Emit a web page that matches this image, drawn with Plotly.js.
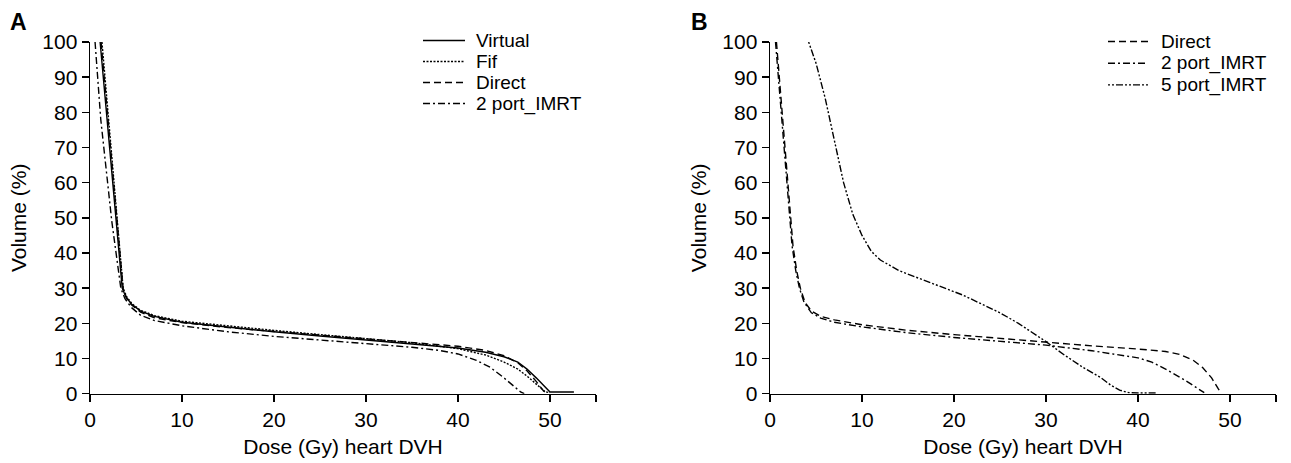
<!DOCTYPE html>
<html>
<head>
<meta charset="utf-8">
<script src="https://cdn.plot.ly/plotly-3.0.1.min.js"></script>
<style>html,body{margin:0;padding:0;background:#fff;}#chart{width:1291px;height:463px;}</style>
</head>
<body>
<div id="chart"></div>
<script>
// ---------- Data ----------
// Panel A
var namesA = ["Virtual", "Fif", "Direct", "2 port_IMRT"];
var doseA_virtual = [1.1, 3.5, 3.9, 4.5, 5.5, 7, 10, 15, 20, 25, 30, 35, 40, 43, 45, 46.5, 47.5, 48.5, 49.5, 50, 52.6];
var volA_virtual  = [100, 30, 27.5, 25.5, 23.5, 22, 20.3, 18.9, 17.6, 16.4, 15.3, 14.3, 13, 11.8, 10.5, 9, 7, 4.5, 1.8, 0.5, 0.5];
var doseA_fif = [1.3, 3.6, 4.0, 4.6, 5.5, 7, 10, 15, 20, 25, 30, 35, 40, 43, 45, 46.5, 47.5, 48.5, 49.5, 50];
var volA_fif  = [100, 30, 27.5, 25.5, 23.7, 22.2, 20.6, 19.2, 18, 16.8, 15.6, 14.5, 12.8, 11, 9, 7, 5, 2.8, 0.5, 0.3];
var doseA_direct = [1.2, 3.6, 4.0, 4.5, 5.5, 7, 10, 15, 20, 25, 30, 35, 40, 43, 45, 46.5, 47.5, 48.5, 49.3, 49.6];
var volA_direct  = [100, 30, 27, 25.3, 23.2, 21.6, 20.2, 18.8, 17.7, 16.6, 15.5, 14.5, 13.5, 12.3, 10.8, 8.8, 6.5, 3.5, 0.8, 0.2];
var doseA_imrt2 = [0.55, 1.17, 2.37, 3.35, 3.8, 4.5, 5.5, 7, 10, 15, 20, 25, 30, 35, 38, 40, 42, 43.5, 45, 46, 46.8, 47.2];
var volA_imrt2  = [100, 78, 49, 30, 27, 24.5, 22.3, 20.8, 19.3, 17.6, 16.3, 15.2, 14.2, 13.2, 12.3, 11.3, 9.5, 7.5, 4.5, 2.2, 0.5, 0];

// Panel B
var namesB = ["Direct", "2 port_IMRT", "5 port_IMRT"];
var doseB_direct = [0.7, 1.0, 1.3, 1.6, 1.9, 2.2, 2.5, 2.9, 3.3, 3.8, 4.5, 5.5, 7, 10, 15, 20, 25, 30, 35, 40, 43, 44.5, 46, 47, 48, 48.7, 49];
var volB_direct  = [100, 90, 80, 70, 60, 50, 42, 35, 30, 26, 23.5, 22, 21, 19.6, 18, 16.8, 15.7, 14.6, 13.6, 12.7, 12, 11.2, 9.5, 7.5, 4.5, 1.5, 0.3];
var doseB_imrt2 = [0.6, 0.9, 1.2, 1.5, 1.8, 2.1, 2.4, 2.8, 3.2, 3.7, 4.5, 5.5, 7, 10, 15, 20, 25, 30, 35, 38, 40, 41.5, 43, 45, 46.5, 47.2];
var volB_imrt2  = [100, 90, 80, 70, 60, 50, 42, 35, 30, 26, 23, 21.5, 20.3, 19, 17.3, 16, 14.8, 13.8, 12.2, 11, 10.2, 9, 7, 4, 1.5, 0.3];
var doseB_imrt5 = [4.2, 5, 6, 7, 8, 9, 10, 11, 12, 14, 16, 18, 20, 21, 23, 25, 27, 29, 30, 32, 34, 36, 37, 38, 39, 40, 42];
var volB_imrt5  = [100, 94, 84, 72, 60, 51, 45, 40.5, 38, 35, 33, 31, 29, 28, 25.5, 23, 20, 16.5, 14.8, 11, 7.5, 4.5, 2.5, 1, 0.3, 0.2, 0.2];

var xTickVals = [0, 10, 20, 30, 40, 50, 55];
var xTickText = ["0", "10", "20", "30", "40", "50", ""];
var yTickVals = [0, 10, 20, 30, 40, 50, 60, 70, 80, 90, 100];

// ---------- Styles ----------
var W = 1291, H = 463;
var FONT = "Liberation Sans, Arial, sans-serif";
var FS = 21;
var LFS = 19;
var LW = 1.4;
var dashes = {
  "Virtual": "solid",
  "Fif": "2px,1.5px",
  "Direct": "7px,4px",
  "2 port_IMRT": "7px,3px,2px,3px",
  "5 port_IMRT": "2px,2px,2px,2px,7px,2px"
};

function tr(x, y, name, xa, ya) {
  return {x: x, y: y, name: name, type: "scatter", mode: "lines",
          xaxis: xa, yaxis: ya, showlegend: false, hoverinfo: "skip",
          line: {color: "#000", width: LW, dash: dashes[name]}};
}

var data = [
  tr(doseA_virtual, volA_virtual, namesA[0], "x", "y"),
  tr(doseA_fif, volA_fif, namesA[1], "x", "y"),
  tr(doseA_direct, volA_direct, namesA[2], "x", "y"),
  tr(doseA_imrt2, volA_imrt2, namesA[3], "x", "y"),
  tr(doseB_direct, volB_direct, namesB[0], "x2", "y2"),
  tr(doseB_imrt2, volB_imrt2, namesB[1], "x2", "y2"),
  tr(doseB_imrt5, volB_imrt5, namesB[2], "x2", "y2")
];

function px(x) { return x / W; }
function py(y) { return 1 - y / H; }

var yDom = [py(393.7), py(42)];

function xAxis(dom) {
  return {domain: dom, range: [0, 55], tickmode: "array", tickvals: xTickVals, ticktext: xTickText,
          ticks: "outside", ticklen: 7, tickwidth: LW, tickcolor: "#000",
          showline: true, linecolor: "#000", linewidth: LW, showgrid: false, zeroline: false,
          tickfont: {family: FONT, size: FS, color: "#000"},
          title: {text: "Dose (Gy) heart DVH", font: {family: FONT, size: FS, color: "#000"}, standoff: 9},
          fixedrange: true};
}
function yAxis(anchor) {
  return {domain: yDom, range: [0, 100], tickmode: "array", tickvals: yTickVals, anchor: anchor,
          ticks: "outside", ticklen: 7, tickwidth: LW, tickcolor: "#000",
          showline: true, linecolor: "#000", linewidth: LW, showgrid: false, zeroline: false,
          tickfont: {family: FONT, size: FS, color: "#000"},
          title: {text: "Volume (%)", font: {family: FONT, size: FS, color: "#000"}, standoff: 10},
          fixedrange: true};
}

var shapes = [], annotations = [];
function legend(names, x0, x1, xt, y0, dy) {
  names.forEach(function (n, i) {
    var yy = y0 + dy * i;
    shapes.push({type: "line", xref: "paper", yref: "paper", x0: px(x0), x1: px(x1), y0: py(yy), y1: py(yy),
                 line: {color: "#000", width: LW, dash: dashes[n]}});
    annotations.push({xref: "paper", yref: "paper", x: px(xt), y: py(yy), text: n, showarrow: false,
                      xanchor: "left", yanchor: "middle", borderpad: 0,
                      font: {family: FONT, size: LFS, color: "#000"}});
  });
}
legend(namesA, 423, 465, 475, 40.5, 21);
legend(namesB, 1108, 1148, 1160, 41.5, 21.7);

annotations.push({xref: "paper", yref: "paper", x: px(8), y: py(22), text: "<b>A</b>", showarrow: false,
                  xanchor: "left", yanchor: "middle", font: {family: FONT, size: 23, color: "#000"}});
annotations.push({xref: "paper", yref: "paper", x: px(689), y: py(22), text: "<b>B</b>", showarrow: false,
                  xanchor: "left", yanchor: "middle", font: {family: FONT, size: 23, color: "#000"}});

var layout = {
  width: W, height: H,
  margin: {l: 0, r: 0, t: 0, b: 0},
  paper_bgcolor: "#fff", plot_bgcolor: "#fff",
  showlegend: false,
  font: {family: FONT, size: FS, color: "#000"},
  xaxis: xAxis([px(90), px(596)]),
  yaxis: yAxis("x"),
  xaxis2: xAxis([px(770), px(1276)]),
  yaxis2: yAxis("x2"),
  shapes: shapes,
  annotations: annotations
};
layout.xaxis.anchor = "y";
layout.xaxis2.anchor = "y2";

Plotly.newPlot("chart", data, layout, {staticPlot: true, displayModeBar: false});
</script>
</body>
</html>
